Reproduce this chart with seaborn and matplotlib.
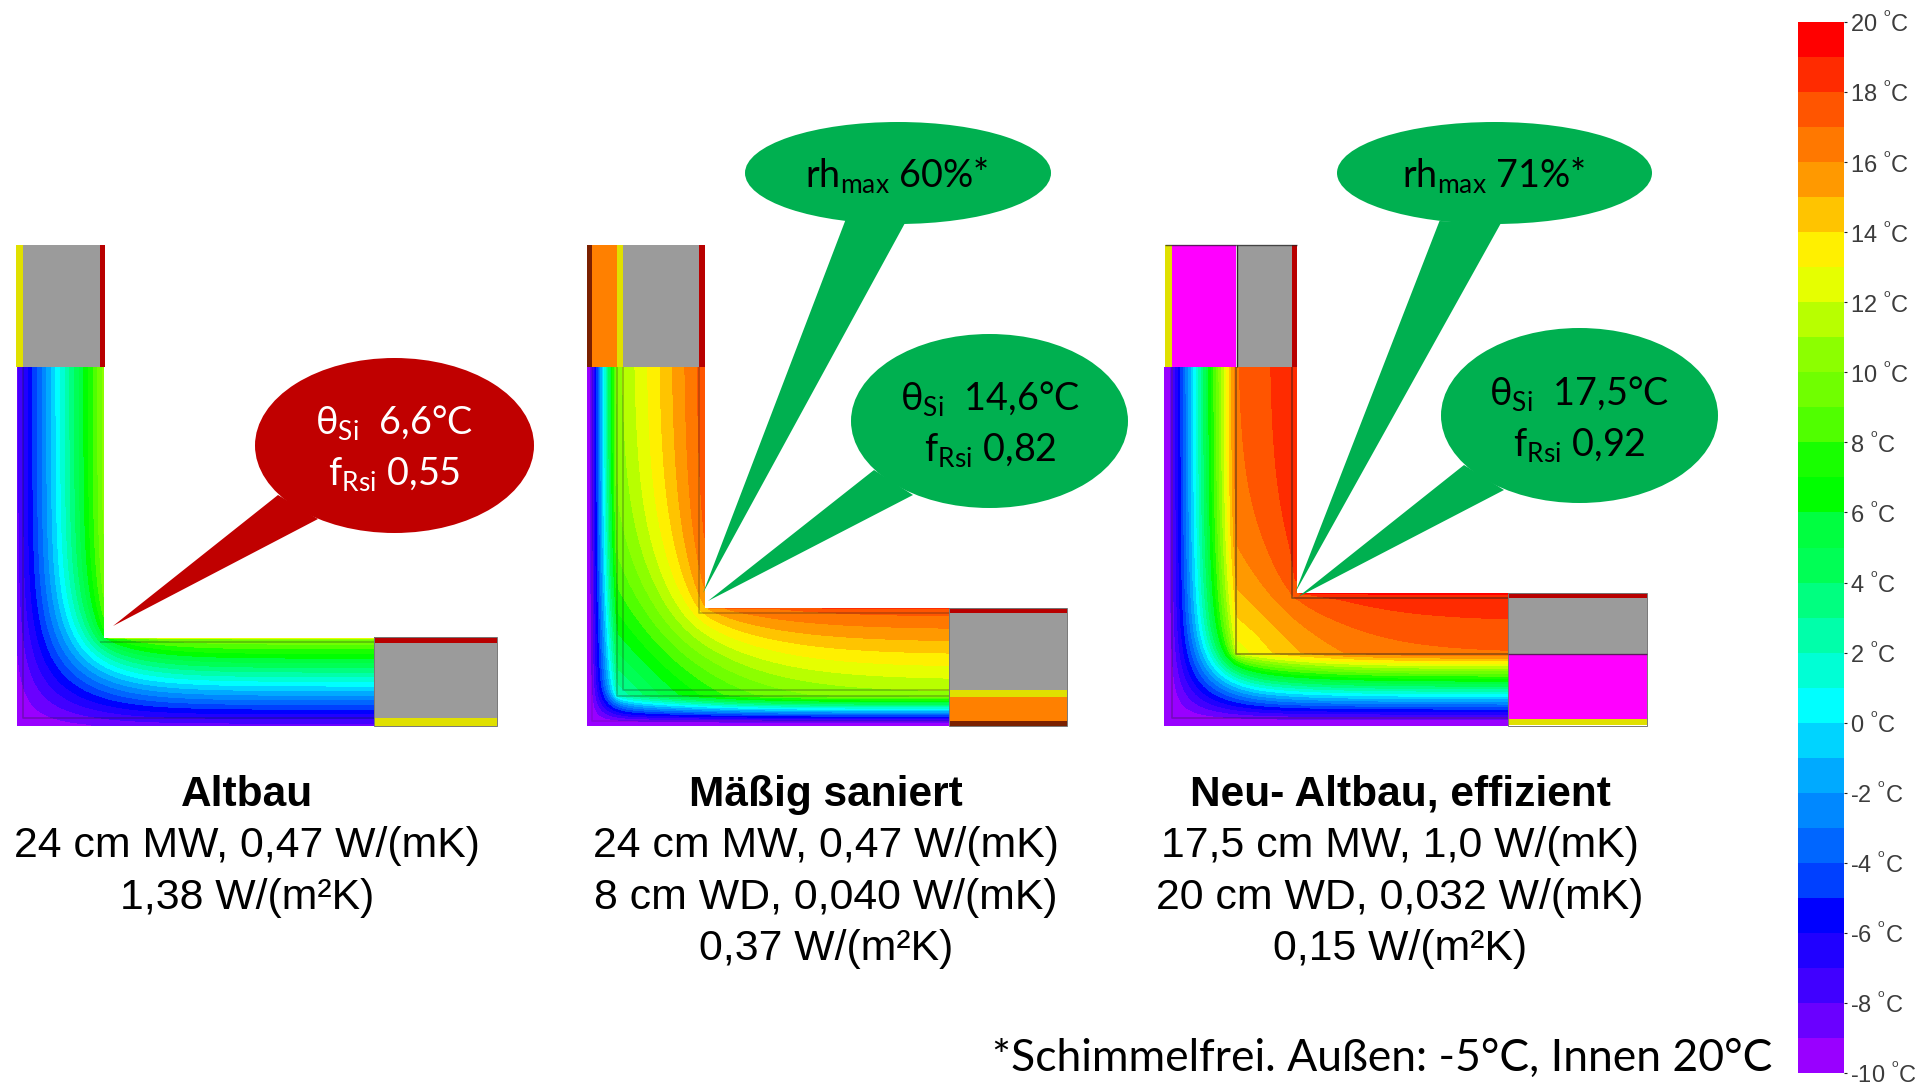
import numpy as np
import matplotlib
matplotlib.use("Agg")
import matplotlib.pyplot as plt
import seaborn as sns
from matplotlib.colors import ListedColormap
from matplotlib.patches import Ellipse, Polygon, Rectangle

W, H = 1916, 1082

# colour scale, coldest band first (-10 .. 20 degC, 1 K per band)
band_colors = ["#9900ff", "#6a00ff", "#4000ff", "#2000ff", "#0000ff", "#0040ff",
               "#0066ff", "#0088ff", "#00aaff", "#00d4ff", "#00ffff", "#00ffd5",
               "#00ffaa", "#00ff80", "#00ff55", "#00ff40", "#00ff00", "#18ff00",
               "#50ff00", "#70ff00", "#8cff00", "#b8ff00", "#e6ff00", "#fff000",
               "#ffc400", "#ff9900", "#ff7800", "#ff5500", "#ff2b00", "#ff0000"]
scale_temps = [20, 18, 16, 14, 12, 10, 8, 6, 4, 2, 0, -2, -4, -6, -8, -10]

# wall build-up: layer edges in px from the outer face,
# relative conductivity per layer, surface coefficients per px
edges_altbau = [0, 88.5]
cond_altbau = [1.0]
h_in_altbau, h_out_altbau = 0.0226, 0.143

edges_maessig = [0, 5, 30, 36, 112, 118]
cond_maessig = [1.0, 0.105, 1.0, 1.0, 1.0]
h_in_maessig, h_out_maessig = 0.0346, 0.11

edges_neu = [0, 7, 71.5, 127, 133]
cond_neu = [1.0, 0.16, 2.0, 1.0]
h_in_neu, h_out_neu = 0.0656, 0.12

temp_inside, temp_outside = 20.0, -10.0

titles = ["Altbau", "Mäßig saniert", "Neu- Altbau, effizient"]
title_x = [247, 826, 1400]
detail_lines = [["24 cm MW, 0,47 W/(mK)", "1,38 W/(m²K)"],
                ["24 cm MW, 0,47 W/(mK)", "8 cm WD, 0,040 W/(mK)", "0,37 W/(m²K)"],
                ["17,5 cm MW, 1,0 W/(mK)", "20 cm WD, 0,032 W/(mK)", "0,15 W/(m²K)"]]
theta_labels = ["θ$_{\\mathrm{Si}}$  6,6°C", "θ$_{\\mathrm{Si}}$  14,6°C", "θ$_{\\mathrm{Si}}$  17,5°C"]
frsi_labels = ["f$_{\\mathrm{Rsi}}$ 0,55", "f$_{\\mathrm{Rsi}}$ 0,82", "f$_{\\mathrm{Rsi}}$ 0,92"]
rh_labels = ["rh$_{\\mathrm{max}}$ 60%*", "rh$_{\\mathrm{max}}$ 71%*"]
footnote = "*Schimmelfrei. Außen: -5°C, Innen 20°C"

GRAY, RED, YEL, ORA, BRN, MAG = "#9b9b9b", "#b80000", "#e0e000", "#ff8000", "#7a2000", "#ff00ff"
DARK_GREEN, DARK_RED = "#00b050", "#c00000"

sns.set_theme(style="white")
plt.rcParams["mathtext.fontset"] = "custom"
plt.rcParams["mathtext.rm"] = "Lato"
plt.rcParams["mathtext.default"] = "regular"

cmap = ListedColormap(band_colors)
fig = plt.figure(figsize=(W / 100, H / 100), dpi=100, facecolor="white")


def px_axes(x0, y0, x1, y1, **kw):
    return fig.add_axes([x0 / W, 1 - y1 / H, (x1 - x0) / W, (y1 - y0) / H], **kw)


def solve_corner(width, height, edges, cond, h_in, h_out, dx=2.0, extra=160, sweeps=3000):
    # steady conduction in the L section, legs run on past the picture so the cut is adiabatic
    thick = edges[-1]
    nx = int(round((width + extra) / dx))
    ny = int(round((height + extra) / dx))
    u = (np.arange(nx) + 0.5) * dx
    v = (np.arange(ny) + 0.5) * dx  # v counted from the bottom face
    uu, vv = np.meshgrid(u, v)
    active = (uu < thick) | (vv < thick)
    q = np.minimum(uu, vv)
    k = np.array(cond)[np.clip(np.digitize(q, edges) - 1, 0, len(cond) - 1)]

    ids = -np.ones(active.shape, dtype=int)
    ids[active] = np.arange(active.sum())
    jj, ii = np.nonzero(active)
    n = len(ii)
    k1 = k[jj, ii]
    nbr = np.zeros((4, n), dtype=int)
    cnd = np.zeros((4, n))
    diag = np.zeros(n)
    rhs = np.zeros(n)
    for d, (dj, di) in enumerate([(0, -1), (0, 1), (-1, 0), (1, 0)]):
        j2, i2 = jj + dj, ii + di
        inside = (j2 >= 0) & (j2 < ny) & (i2 >= 0) & (i2 < nx)
        other = np.full(n, -1)
        other[inside] = ids[j2[inside], i2[inside]]
        has = other >= 0
        nbr[d] = np.where(has, other, 0)
        k2 = np.where(has, k[np.clip(j2, 0, ny - 1), np.clip(i2, 0, nx - 1)], 1.0)
        cnd[d] = np.where(has, 2 * k1 * k2 / (k1 + k2), 0.0)
        diag += cnd[d]
        if dj == 0 and di == -1:
            g = 1 / (1 / (2 * k1) + 1 / (h_out * dx)) * (i2 < 0)
            diag += g
            rhs += g * temp_outside
        elif dj == -1:
            g = 1 / (1 / (2 * k1) + 1 / (h_out * dx)) * (j2 < 0)
            diag += g
            rhs += g * temp_outside
        else:
            # inner face: the neighbour is a grid cell outside the L
            g = 1 / (1 / (2 * k1) + 1 / (h_in * dx)) * (inside & ~has)
            diag += g
            rhs += g * temp_inside

    temp = np.full(n, 0.0)
    red = np.nonzero((ii + jj) % 2 == 0)[0]
    black = np.nonzero((ii + jj) % 2 == 1)[0]
    omega = 1.97
    for _ in range(sweeps):
        for part in (red, black):
            acc = rhs[part].copy()
            for d in range(4):
                acc += cnd[d, part] * temp[nbr[d, part]]
            temp[part] += omega * (acc / diag[part] - temp[part])

    grid = np.full(active.shape, np.nan)
    grid[active] = temp
    # copy the surface value into the empty side so the resampling below stays clean
    filled = grid.copy()
    for axis, step in [(1, 1), (0, -1), (1, 1), (0, -1)]:
        empty = np.isnan(filled)
        filled[empty] = np.roll(filled, step, axis=axis)[empty]

    # resample to whole px, bottom row first -> top row first for the heatmap
    out_x = np.arange(int(round(width))) + 0.5
    out_y = np.arange(int(round(height))) + 0.5
    fx = np.clip(out_x / dx - 0.5, 0, nx - 1.001)
    fy = np.clip(out_y / dx - 0.5, 0, ny - 1.001)
    i0, j0 = fx.astype(int), fy.astype(int)
    wx, wy = (fx - i0)[None, :], (fy - j0)[:, None]
    fine = ((1 - wy) * (1 - wx) * np.nan_to_num(filled[np.ix_(j0, i0)], nan=temp_inside)
            + (1 - wy) * wx * np.nan_to_num(filled[np.ix_(j0, i0 + 1)], nan=temp_inside)
            + wy * (1 - wx) * np.nan_to_num(filled[np.ix_(j0 + 1, i0)], nan=temp_inside)
            + wy * wx * np.nan_to_num(filled[np.ix_(j0 + 1, i0 + 1)], nan=temp_inside))
    oxx, oyy = np.meshgrid(out_x, out_y)
    fine[(oxx >= thick) & (oyy >= thick)] = np.nan
    return fine[::-1, :]


def draw_field(left, top, right, bottom, edges, cond, h_in, h_out):
    field = solve_corner(right - left, bottom - top, edges, cond, h_in, h_out)
    a = px_axes(left, top, right, bottom)
    sns.heatmap(field, mask=np.isnan(field), cmap=cmap, vmin=-10, vmax=20, cbar=False,
                xticklabels=False, yticklabels=False, ax=a)
    a.patch.set_alpha(0)


draw_field(16.5, 367, 374, 726, edges_altbau, cond_altbau, h_in_altbau, h_out_altbau)
draw_field(587, 367, 949, 726, edges_maessig, cond_maessig, h_in_maessig, h_out_maessig)
draw_field(1164, 367, 1508, 726, edges_neu, cond_neu, h_in_neu, h_out_neu)

# colour bar
cax = px_axes(1798, 22, 1844, 1073)
sns.heatmap(np.arange(19.5, -10, -1).reshape(-1, 1), cmap=cmap, vmin=-10, vmax=20,
            cbar=False, xticklabels=False, ax=cax)
cax.set_yticks(np.arange(0, 31, 2))
cax.set_yticklabels([f"{t} $^{{^{{\\mathrm{{o}}}}}}$C" for t in scale_temps], rotation=0,
                    family="Liberation Sans", fontsize=17, color="#3c3c3c")
cax.yaxis.tick_right()
cax.tick_params(axis="y", length=2, width=0.8, pad=2, color="#222222", left=False, right=True)

# overlay in pixel coordinates: wall blocks, callouts, text
ax = px_axes(0, 0, W, H, zorder=5)
ax.set_xlim(0, W)
ax.set_ylim(H, 0)
ax.axis("off")


def block(x0, y0, x1, y1, color):
    ax.add_patch(Rectangle((x0, y0), x1 - x0, y1 - y0, fc=color, ec="none"))


def line(xs, ys, alpha=0.3, lw=1.2):
    ax.plot(xs, ys, color="#202020", alpha=alpha, lw=lw, solid_capstyle="butt")


# Altbau
for x0, x1, c in [(16.5, 23.5, YEL), (23.5, 100, GRAY), (100, 105, RED)]:
    block(x0, 245, x1, 367, c)
for y0, y1, c in [(636.5, 643, RED), (643, 718, GRAY), (718, 726, YEL)]:
    block(374, y0, 497, y1, c)
line([23, 23, 374], [367, 718, 718])
line([100, 374], [642, 642])

# Maessig saniert
for x0, x1, c in [(587, 592, BRN), (592, 617, ORA), (617, 623, YEL), (623, 699, GRAY), (699, 705, RED)]:
    block(x0, 245, x1, 367, c)
for y0, y1, c in [(608, 613, RED), (613, 690, GRAY), (690, 696.5, YEL), (696.5, 721, ORA), (721, 726, BRN)]:
    block(949, y0, 1067, y1, c)
line([623, 623, 949], [367, 690, 690])
line([617, 617, 949], [367, 696, 696])
line([592, 592, 949], [367, 721, 721], alpha=0.15)
line([699, 699, 949], [367, 613, 613])

# Neu- Altbau
for x0, x1, c in [(1165.5, 1172.5, YEL), (1172.5, 1236.5, MAG), (1237, 1292, GRAY), (1292, 1297, RED)]:
    block(x0, 245, x1, 367, c)
line([1236.8, 1236.8], [245, 367], alpha=0.9, lw=1)
line([1165.5, 1297], [245, 245], alpha=0.7, lw=1)
for y0, y1, c in [(593, 598, RED), (598, 654, GRAY), (654, 718.5, MAG), (718.5, 725, YEL)]:
    block(1508, y0, 1647, y1, c)
line([1508, 1647], [654, 654], alpha=0.7, lw=1)
line([1172, 1172, 1508], [367, 718, 718])
line([1236, 1236, 1508], [367, 654, 654], alpha=0.5)
line([1292, 1292, 1508], [367, 598, 598], alpha=0.5)

# wall block outlines
for y0, x0, x1 in [(636.5, 374, 497), (608, 949, 1067), (593, 1508, 1647)]:
    ax.add_patch(Rectangle((x0, y0), x1 - x0, 726 - y0, fc="none", ec="#777777", lw=0.7))


def callout(cx, cy, w, h, tip, base_a, base_b, color):
    ax.add_patch(Polygon([tip, base_a, base_b], closed=True, fc=color, ec="none", zorder=6))
    ax.add_patch(Ellipse((cx, cy), w, h, fc=color, ec="none", zorder=6))


callout(394.5, 445.5, 279, 175, (113, 626), (278, 495), (318, 519), DARK_RED)
callout(989.5, 421, 277, 174, (708, 601), (874, 470), (913, 495), DARK_GREEN)
callout(1579.5, 415.5, 277, 175, (1298, 597), (1464, 465), (1504, 490), DARK_GREEN)
callout(898, 173, 306, 102, (703, 593), (845.5, 220), (905, 223), DARK_GREEN)
callout(1494.5, 173, 315, 102, (1295, 593), (1439.5, 221), (1501, 223), DARK_GREEN)

callout_text = dict(family=["Lato", "DejaVu Sans"], fontsize=27.2, ha="center", va="baseline", zorder=7)
for i, (x, y1, y2, col) in enumerate([(394, 434, 485, "white"), (990, 410, 461, "black"), (1579, 405, 456, "black")]):
    ax.text(x, y1, theta_labels[i], color=col, **callout_text)
    ax.text(x, y2, frsi_labels[i], color=col, **callout_text)
ax.text(897, 187, rh_labels[0], color="black", **callout_text)
ax.text(1494, 187, rh_labels[1], color="black", **callout_text)

# captions
for x, title, lines in zip(title_x, titles, detail_lines):
    ax.text(x, 795, title, family="Liberation Sans", fontweight="bold", fontsize=30.5,
            ha="center", va="center", color="black")
    for j, txt in enumerate(lines):
        ax.text(x, 846 + j * 51.5, txt, family="Liberation Sans", fontsize=30.8,
                ha="center", va="center", color="black")

ax.text(1772, 1071, footnote, family=["Lato", "DejaVu Sans"], fontsize=32, ha="right",
        va="baseline", color="black")

fig.savefig("out.png", dpi=100, facecolor="white")
